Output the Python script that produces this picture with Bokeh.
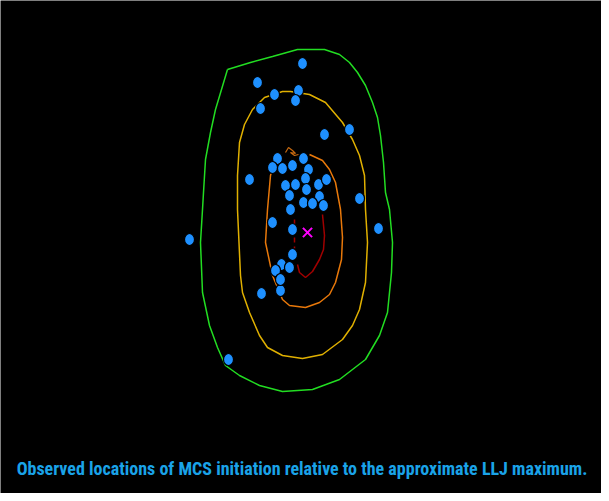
from bokeh.plotting import figure
from bokeh.models import Label, Range1d
from bokeh.embed import file_html
from bokeh.resources import INLINE

# MCS initiation locations relative to LLJ maximum (arbitrary distance units, LLJ max at 0,0)
mcs_px = [310, 265, 282, 306, 303, 268, 332, 357, 257, 197, 236, 367, 386, 269, 288,
          285, 311, 280, 290, 300, 316, 293, 303, 313, 326, 334, 297, 314, 327, 311,
          320, 331, 298, 280, 300, 300, 289, 297, 283, 288]
mcs_py = [71, 90, 102, 98, 108, 116, 142, 137, 187, 247, 367, 206, 236, 301, 298,
          166, 166, 175, 176, 173, 177, 193, 192, 186, 192, 187, 203, 197, 204, 210,
          211, 213, 217, 230, 237, 262, 272, 275, 278, 287]
mcs_x = [v - 315 for v in mcs_px]
mcs_y = [240 - v for v in mcs_py]

# Contours (outer to inner)
green_x = [235, 258, 280, 305, 332, 347, 357, 365, 373, 380, 385, 388, 391, 393, 397, 400, 399, 397, 395, 387, 373, 347, 320, 290, 267, 247, 233, 225, 217, 210, 208, 210, 211, 213, 218, 223, 235]
green_y = [77, 70, 64, 57, 57, 62, 70, 80, 93, 110, 125, 143, 170, 200, 217, 250, 280, 300, 320, 343, 367, 387, 397, 399, 393, 383, 373, 355, 333, 300, 250, 217, 200, 167, 140, 117, 77]
yellow_x = [260, 272, 290, 298, 317, 333, 350, 360, 367, 372, 373, 375, 373, 367, 360, 350, 330, 310, 290, 275, 267, 257, 250, 248, 245, 245, 247, 252, 260]
yellow_y = [117, 105, 99, 99, 102, 110, 130, 147, 163, 183, 217, 250, 290, 317, 333, 347, 362, 366, 363, 355, 343, 320, 300, 283, 217, 183, 150, 132, 117]
orange_x = [317, 330, 337, 343, 348, 350, 349, 343, 337, 327, 313, 297, 290, 280, 273, 275, 278, 283]
orange_y = [162, 168, 177, 190, 217, 245, 267, 290, 302, 310, 315, 313, 307, 283, 250, 217, 183, 165]
red_x = [330, 332, 331, 327, 320, 313, 307, 305]
red_y = [222, 243, 257, 267, 279, 285, 280, 272]
reddash_x = [302, 302]
reddash_y = [227, 256]
squig_x = [293, 296, 300, 303, 298, 302, 306]
squig_y = [160, 155, 158, 161, 160, 163, 162]

def tx(a):
    return [v - 315 for v in a]

def ty(a):
    return [240 - v for v in a]

p = figure(width=601, height=493, output_backend="svg", toolbar_location=None,
           x_range=Range1d(8 - 315, 609 - 315), y_range=Range1d(240 - 501, 240 - 8),
           min_border=0, background_fill_color="black", border_fill_color="black",
           outline_line_color=None)
p.axis.visible = False
p.grid.visible = False

p.line(tx(green_x), ty(green_y), line_color="#22DD22", line_width=1.5)
p.line(tx(yellow_x), ty(yellow_y), line_color="#E0B000", line_width=1.5)
p.line(tx(orange_x), ty(orange_y), line_color="#E8780A", line_width=1.5)
p.line(tx(squig_x), ty(squig_y), line_color="#C86A10", line_width=1.2)
p.line(tx(red_x), ty(red_y), line_color="#A00000", line_width=1.5)
p.line(tx(reddash_x), ty(reddash_y), line_color="#A00000", line_width=1.5, line_dash="5 4")

p.ellipse(mcs_x, mcs_y, width=10, height=12, fill_color="#1E90FF",
          line_color="black", line_width=1.2)
p.scatter([0], [0], marker="x", size=13, line_color="#FF00FF", line_width=2)

p.add_layout(Label(x=-5.5, y=-236, text="Observed locations of MCS initiation relative to the approximate LLJ maximum.",
                   text_align="center", text_baseline="alphabetic", text_color="#1AA3E8",
                   text_font="Roboto Condensed", text_font_style="bold",
                   text_font_size="18px"))

open("out.html", "w").write(file_html(p, INLINE))
